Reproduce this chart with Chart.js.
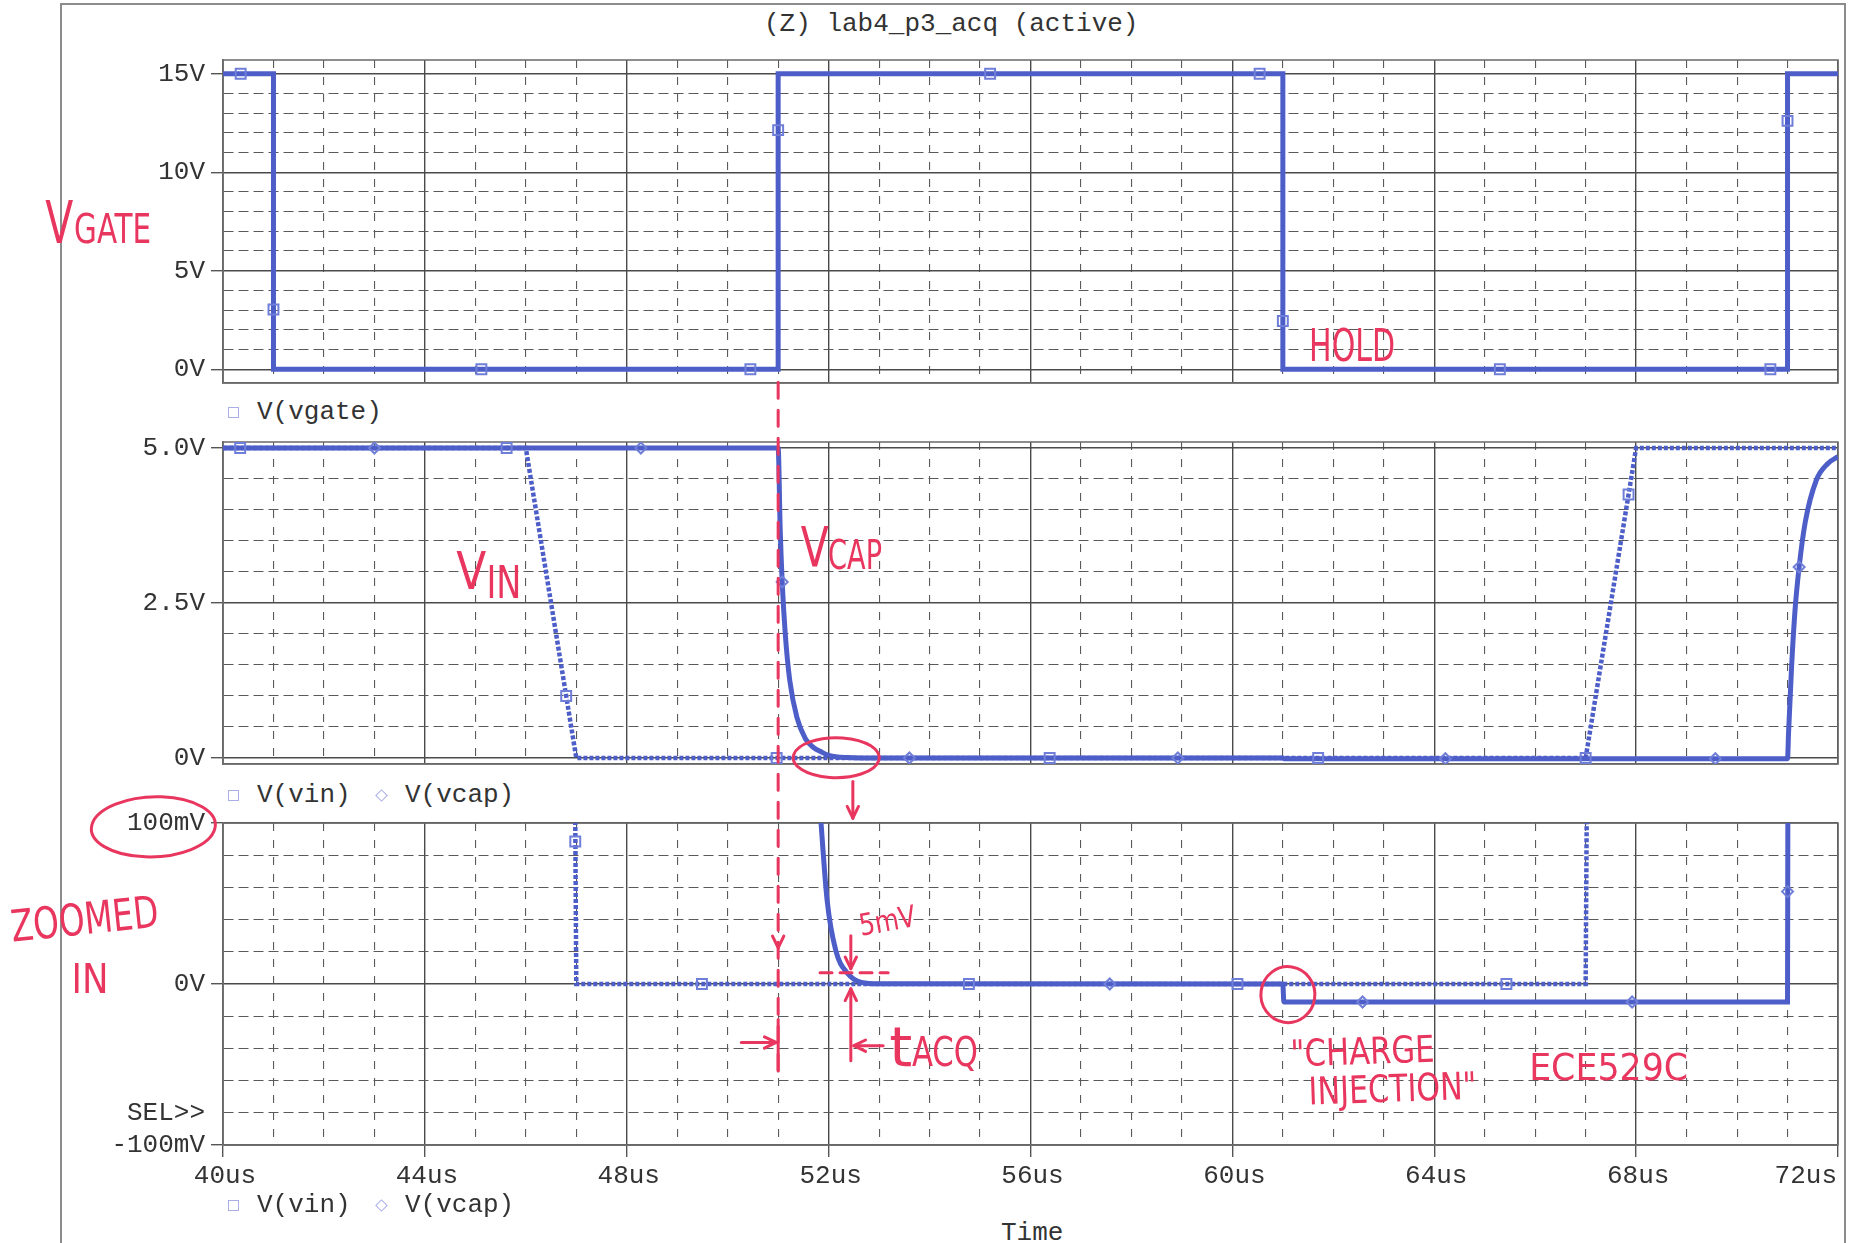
<!DOCTYPE html>
<html>
<head>
<meta charset="utf-8">
<title>lab4_p3_acq</title>
<script src="https://cdn.jsdelivr.net/npm/chart.js@4.4.1/dist/chart.umd.min.js"></script>
<style>
  body { margin: 0; background: #fff; width: 1858px; height: 1243px; overflow: hidden; position: relative;
         font-family: "Liberation Mono", "DejaVu Sans Mono", monospace; color: #333; }
  .frame { position: absolute; left: 60px; top: 3px; width: 1786px; height: 1300px;
           border: 2px solid #8c8c8c; border-bottom: none; box-sizing: border-box; }
  canvas.panel { position: absolute; left: 0; }
  .txt { position: absolute; font-size: 26px; line-height: 26px; white-space: pre; }
  .sq { position: absolute; width: 9px; height: 9px; border: 1.5px solid #a9aee6; }
  .dm { position: absolute; width: 7px; height: 7px; border: 1.5px solid #a9aee6; transform: rotate(45deg); }
  #notes { position: absolute; left: 0; top: 0; pointer-events: none; }
</style>
</head>
<body>
<div class="frame"></div>
<div class="txt" style="left:764px;top:11px">(Z) lab4_p3_acq (active)</div>

<canvas id="c1" class="panel" width="1858" height="343" style="top:50px"></canvas>
<span class="sq" style="left:228px;top:407px"></span>
<div class="txt" style="left:257px;top:399px">V(vgate)</div>

<canvas id="c2" class="panel" width="1858" height="349" style="top:425px"></canvas>
<span class="sq" style="left:228px;top:790px"></span>
<div class="txt" style="left:257px;top:782px">V(vin)</div>
<span class="dm" style="left:377px;top:791px"></span>
<div class="txt" style="left:405px;top:782px">V(vcap)</div>

<canvas id="c3" class="panel" width="1858" height="405" style="top:800px"></canvas>
<span class="sq" style="left:228px;top:1200px"></span>
<div class="txt" style="left:257px;top:1192px">V(vin)</div>
<span class="dm" style="left:377px;top:1201px"></span>
<div class="txt" style="left:405px;top:1192px">V(vcap)</div>
<div class="txt" style="left:1001px;top:1220px">Time</div>

<canvas id="notes" width="1858" height="1243"></canvas>

<script>
// time axis (us)
const xTicks = [40, 41, 42, 43, 44, 45, 46, 47, 48, 49, 50, 51, 52, 53, 54, 55, 56,
                57, 58, 59, 60, 61, 62, 63, 64, 65, 66, 67, 68, 69, 70, 71, 72];
const xLabelTicks = [40, 44, 48, 52, 56, 60, 64, 68, 72];

// y ticks of the three panels
const gateTicks = [0, 1, 2, 3, 4, 5, 6, 7, 8, 9, 10, 11, 12, 13, 14, 15];
const gateMajor = [0, 5, 10, 15];
const capTicks = [0, 0.5, 1, 1.5, 2, 2.5, 3, 3.5, 4, 4.5, 5];
const capMajor = [0, 2.5, 5];
const zoomTicks = [-0.1, -0.08, -0.06, -0.04, -0.02, 0, 0.02, 0.04, 0.06, 0.08, 0.1];
const zoomMajor = [-0.1, 0, 0.1];

// V(vgate)
const vgateT = [40, 41, 41, 51, 51, 61, 61, 71, 71, 72];
const vgateV = [15, 15, 0, 0, 15, 15, 0, 0, 15, 15];
const vgateMarkT = [40.35, 41.0, 45.12, 50.45, 51.0, 55.2, 60.54, 61.0, 65.3, 70.66, 71.0];
const vgateMarkV = [15, 3.03, 0, 0, 12.14, 15, 15, 2.45, 0, 0, 12.61];

// V(vin)
const vinT = [40, 46, 47, 67, 68, 72];
const vinV = [5, 5, 0, 0, 5, 5];

// V(vcap)
const vcapT = [40, 51.0, 51.04, 51.08, 51.14, 51.23, 51.37, 51.54, 51.7, 51.85, 51.97, 52.14, 52.37,
               52.65, 53.0, 61.0, 61.02, 71.0, 71.02, 71.08, 71.15, 71.23, 71.35, 71.57, 71.8, 72.0];
const vcapV = [5.0, 5.0, 3.7, 2.84, 2.01, 1.25, 0.66, 0.31, 0.17, 0.1, 0.052, 0.021, 0.0068,
               0.001, 0.0001, 0, -0.0112, -0.0112, 0.4, 1.47, 2.4, 3.08, 3.8, 4.48, 4.75, 4.86];

// symbol markers, middle panel
const vinMark2T = [40.34, 45.62, 46.8, 50.97, 56.38, 61.7, 67.0, 67.85];
const vinMark2V = [5, 5, 1.0, 0, 0, 0, 0, 4.25];
const vcapMark2T = [43.0, 48.28, 51.08, 53.6, 58.92, 64.22, 69.57, 71.23];
const vcapMark2V = [5, 5, 2.84, 0, 0, -0.011, -0.011, 3.08];

// symbol markers, zoomed panel
const vinMark3T = [46.98, 49.49, 54.78, 60.1, 65.43];
const vinMark3V = [0.0885, 0, 0, 0, 0];
const vcapMark3T = [57.57, 62.58, 67.92, 71.0];
const vcapMark3V = [0, -0.0112, -0.0112, 0.0574];

const trace = '#4d5ec8';
const markColor = '#6f7ed8';
const tops = [50, 425, 800];

const pts = (ts, vs) => ts.map((t, i) => ({ x: t, y: vs[i] }));
const near = (list, v) => list.some(a => Math.abs(a - v) < 1e-6);

function markers(ts, vs, style) {
    return {
        data: pts(ts, vs),
        showLine: false,
        pointStyle: style,
        pointRadius: style === 'rect' ? 7 : 5.5,
        pointBorderColor: markColor,
        pointBackgroundColor: 'rgba(0,0,0,0)',
        pointBorderWidth: 2
    };
}

function line(ts, vs, dotted, smooth) {
    return {
        data: pts(ts, vs),
        borderColor: trace,
        borderWidth: dotted ? 4.5 : 5,
        borderDash: dotted ? [4, 2] : [],
        borderJoinStyle: 'miter',
        cubicInterpolationMode: smooth ? 'monotone' : 'default',
        tension: 0,
        pointRadius: 0
    };
}

const framePlugin = {
    id: 'frame',
    beforeDatasetsDraw(chart) {
        const a = chart.chartArea;
        const g = chart.ctx;
        g.save();
        g.strokeStyle = '#6a6a6a';
        g.lineWidth = 1.5;
        g.strokeRect(a.left, a.top, a.right - a.left, a.bottom - a.top);
        g.restore();
    }
};

const xLabelPlugin = {
    id: 'xlabels',
    afterDraw(chart) {
        const g = chart.ctx;
        const s = chart.scales.x;
        g.save();
        g.font = '26px "Liberation Mono"';
        g.fillStyle = '#333';
        g.textBaseline = 'middle';
        xLabelTicks.forEach((t, i) => {
            const last = i === xLabelTicks.length - 1;
            g.textAlign = last ? 'right' : 'center';
            g.fillText(t + 'us', s.getPixelForValue(t) + (last ? -1 : 2), chart.chartArea.bottom + 31);
        });
        g.restore();
    }
};

function makePanel(id, padTop, padBottom, y, showXTicks, datasets, extra) {
    return new Chart(document.getElementById(id), {
        type: 'line',
        data: { datasets: datasets },
        options: {
            responsive: false,
            animation: false,
            events: [],
            layout: { padding: { left: 0, right: 20, top: padTop, bottom: padBottom } },
            plugins: { legend: { display: false }, tooltip: { enabled: false } },
            scales: {
                x: {
                    type: 'linear', min: 40, max: 72,
                    afterBuildTicks: s => { s.ticks = xTicks.map(v => ({ value: v })); },
                    afterFit: s => { s.height = 0; s.paddingLeft = 0; s.paddingRight = 0; },
                    ticks: { display: false, autoSkip: false },
                    grid: {
                        color: c => (c.tick && c.tick.value % 4 === 0) ? '#4a4a4a' : '#5a5a5a',
                        lineWidth: c => (c.tick && c.tick.value % 4 === 0) ? 1.4 : 1.1,
                        drawTicks: showXTicks,
                        tickLength: 12,
                        tickWidth: 1.4,
                        tickColor: c => (c.tick && c.tick.value % 4 === 0) ? '#555' : 'rgba(0,0,0,0)'
                    },
                    border: {
                        color: '#666', width: 1.5,
                        dash: c => (c.tick && c.tick.value % 4 !== 0) ? [8, 9] : []
                    }
                },
                y: {
                    min: y.min, max: y.max,
                    afterBuildTicks: s => { s.ticks = y.ticks.map(v => ({ value: v })); },
                    afterFit: s => { s.width = 223; s.paddingTop = 0; s.paddingBottom = 0; },
                    ticks: {
                        autoSkip: false,
                        padding: 6,
                        color: '#333',
                        font: { family: '"Liberation Mono", monospace', size: 26 },
                        callback: v => y.fmt(v)
                    },
                    grid: {
                        color: c => (c.tick && near(y.major, c.tick.value)) ? '#4a4a4a' : '#5a5a5a',
                        lineWidth: c => (c.tick && near(y.major, c.tick.value)) ? 1.4 : 1.1,
                        tickLength: 12,
                        tickWidth: 1.4,
                        tickColor: c => (c.tick && near(y.major, c.tick.value)) ? '#555' : 'rgba(0,0,0,0)'
                    },
                    border: {
                        color: '#666', width: 1.5,
                        dash: c => (c.tick && !near(y.major, c.tick.value)) ? [10, 5] : []
                    }
                }
            }
        },
        plugins: [framePlugin].concat(extra || [])
    });
}

const charts = [];

charts.push(makePanel('c1', 10, 10, {
    min: -0.7, max: 15.7, ticks: gateTicks, major: gateMajor,
    fmt: v => near(gateMajor, v) ? Math.round(v) + 'V' : ''
}, false, [
    markers(vgateMarkT, vgateMarkV, 'rect'),
    line(vgateT, vgateV, false, false)
]));

charts.push(makePanel('c2', 17, 10, {
    min: -0.097, max: 5.097, ticks: capTicks, major: capMajor,
    fmt: v => Math.abs(v) < 1e-9 ? '0V' : (near(capMajor, v) ? v.toFixed(1) + 'V' : '')
}, false, [
    markers(vinMark2T, vinMark2V, 'rect'),
    markers(vcapMark2T, vcapMark2V, 'rectRot'),
    line(vcapT, vcapV, false, true),
    line(vinT, vinV, true, false)
]));

charts.push(makePanel('c3', 23, 60, {
    min: -0.1, max: 0.1, ticks: zoomTicks, major: zoomMajor,
    fmt: v => {
        const mv = Math.round(v * 1000);
        if (mv === 0) return '0V';
        if (mv === 100 || mv === -100) return mv + 'mV';
        if (mv === -80) return 'SEL>>';
        return '';
    }
}, true, [
    markers(vinMark3T, vinMark3V, 'rect'),
    markers(vcapMark3T, vcapMark3V, 'rectRot'),
    line(vcapT, vcapV, false, true),
    line(vinT, vinV, true, false)
], [xLabelPlugin]));

// red pen notes on top of the printout
function drawNotes() {
    const g = document.getElementById('notes').getContext('2d');
    const red = '#e8365f';
    const P = (i, t, v) => [charts[i].scales.x.getPixelForValue(t),
                            charts[i].scales.y.getPixelForValue(v) + tops[i]];
    g.strokeStyle = red;
    g.fillStyle = red;
    g.lineWidth = 3;
    g.lineCap = 'round';
    g.lineJoin = 'round';

    function text(p, str, size, width, rot) {
        g.save();
        g.translate(p[0], p[1]);
        g.rotate((rot || 0) * Math.PI / 180);
        g.font = size + 'px "Liberation Sans Narrow", "DejaVu Sans Condensed", sans-serif';
        g.scale(width / g.measureText(str).width, 1);
        g.fillText(str, 0, 0);
        g.restore();
    }
    function seg(a, b, dash) {
        g.save();
        g.setLineDash(dash || []);
        g.beginPath(); g.moveTo(a[0], a[1]); g.lineTo(b[0], b[1]); g.stroke();
        g.restore();
    }
    function head(a, b) {
        const ang = Math.atan2(b[1] - a[1], b[0] - a[0]);
        g.beginPath();
        g.moveTo(b[0] - 13 * Math.cos(ang - 0.45), b[1] - 13 * Math.sin(ang - 0.45));
        g.lineTo(b[0], b[1]);
        g.lineTo(b[0] - 13 * Math.cos(ang + 0.45), b[1] - 13 * Math.sin(ang + 0.45));
        g.stroke();
    }
    function arrow(a, b) { seg(a, b); head(a, b); }
    function ring(p, rx, ry, rot) {
        g.beginPath();
        g.ellipse(p[0], p[1], rx, ry, rot || 0, 0.15, Math.PI * 2 + 0.35);
        g.stroke();
    }

    text(P(0, 36.48, 6.4), 'V', 58, 28);
    text(P(0, 37.05, 6.4), 'GATE', 41, 77);
    text(P(0, 61.52, 0.41), 'HOLD', 44, 86);

    text(P(1, 44.62, 2.72), 'V', 52, 30);
    text(P(1, 45.22, 2.58), 'IN', 44, 35);
    text(P(1, 51.45, 3.1), 'V', 56, 28);
    text(P(1, 51.99, 3.05), 'CAP', 41, 54);

    text(P(2, 35.83, 0.0262), 'ZOOMED', 44, 148, -6);
    text(P(2, 37.0, -0.0055), 'IN', 41, 37);
    text(P(2, 52.64, 0.030), '5mV', 30, 57, -10);
    text(P(2, 53.2, -0.0507), 't', 56, 23);
    text(P(2, 53.65, -0.0507), 'ACQ', 40, 66);
    text(P(2, 61.16, -0.0513), '"CHARGE', 37, 144, -2);
    text(P(2, 61.52, -0.0749), 'INJECTION"', 38, 168, -2);
    text(P(2, 65.88, -0.0594), 'ECE529C', 38, 159);

    ring(P(2, 38.62, 0.0976), 62, 30, -0.04);
    ring(P(1, 52.15, 0.005), 43, 20, 0);
    ring(P(2, 61.1, -0.0066), 27, 28, 0);

    // sampling edge and acquisition time
    seg(P(0, 51.0, -0.66), P(2, 51.0, -0.054), [16, 12]);
    seg(P(2, 51.0, -0.022), P(2, 51.0, -0.054));
    head(P(2, 51.0, 0.04), P(2, 51.0, 0.0225));
    arrow(P(1, 52.48, -0.38), P(2, 52.48, 0.103));
    seg(P(2, 51.83, 0.007), P(2, 53.18, 0.007), [12, 8]);
    arrow(P(2, 52.44, 0.030), P(2, 52.44, 0.0095));
    arrow(P(2, 52.44, -0.0476), P(2, 52.44, -0.003));
    arrow(P(2, 50.27, -0.0363), P(2, 50.96, -0.0363));
    arrow(P(2, 53.08, -0.0383), P(2, 52.5, -0.0383));
}

drawNotes();
</script>
</body>
</html>
